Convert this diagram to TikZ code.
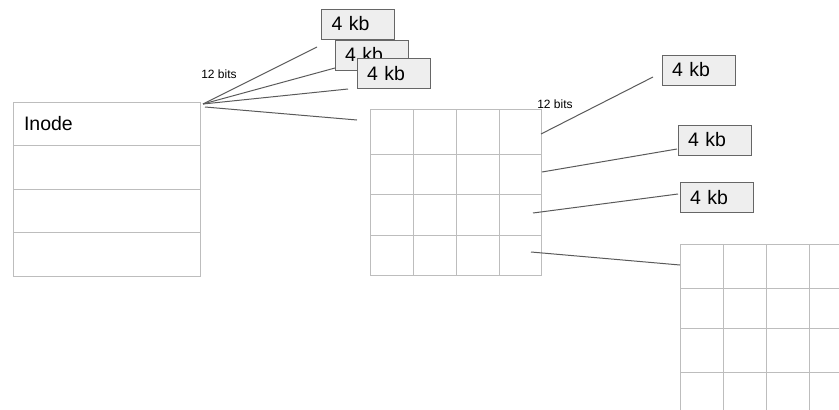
\documentclass[tikz,border=0pt]{standalone}
\usepackage{fontspec}
\setmainfont{Liberation Sans}
\usetikzlibrary{positioning}
\definecolor{gridgray}{HTML}{BDBDBD}
\definecolor{linegray}{HTML}{5A5A5A}
\definecolor{boxfill}{HTML}{EEEEEE}
\definecolor{boxdraw}{HTML}{666666}
\tikzset{
	kbbox/.style={draw=boxdraw, line width=1pt, fill=boxfill, minimum height=30pt,
		text width=53pt, inner xsep=10pt, inner ysep=0pt, align=left,
		font=\fontsize{19.5}{20}\selectfont},
	slot/.style={draw=gridgray, line width=1pt, minimum height=43.5pt,
		text width=165pt, inner xsep=11pt, inner ysep=0pt, outer sep=0pt, align=left,
		font=\fontsize{19.5}{20}\selectfont},
	blockgrid/.style={draw=gridgray, line width=1pt, minimum width=171pt,
		minimum height=166pt, inner sep=0pt},
	gridline/.style={draw=gridgray, line width=1pt},
	link/.style={draw=linegray, line width=1pt},
	bits/.style={font=\fontsize{12}{12}\selectfont, inner sep=0pt},
}

\begin{document}
\begin{tikzpicture}[x=1pt, y=-1pt]
		%%%%% START %%%%%
		\useasboundingbox (0,0) rectangle (839,410);
		\clip (0,0) rectangle (839,410);
		
		% inode table
		\node[slot, anchor=north west] (inode) at (13,102) {Inode};
		\node[slot, below=0pt of inode] (slot2) {};
		\node[slot, below=0pt of slot2] (slot3) {};
		\node[slot, below=0pt of slot3] (slot4) {};
		
		% first indirect block
		\node[blockgrid] (table) at (455.5,192) {};
		\foreach \x in {413,456,499}
			\draw[gridline] (\x,109) -- (\x,275);
		\foreach \y in {154,194,235}
			\draw[gridline] (370,\y) -- (541,\y);
		
		% second indirect block, cut off at the page edge
		\node[blockgrid] (table2) at (765.5,327) {};
		\foreach \x in {723,766,809}
			\draw[gridline] (\x,244) -- (\x,410);
		\foreach \y in {288,328,372}
			\draw[gridline] (680,\y) -- (851,\y);
		
		% data blocks
		\node[kbbox] (top1) at (358,24) {4 kb};
		\node[kbbox] (top2) at (371.5,55) {4 kb};
		\node[kbbox] (top3) at (393.5,73.5) {4 kb};
		\node[kbbox] (data1) at (698.5,70) {4 kb};
		\node[kbbox] (data2) at (714.5,140) {4 kb};
		\node[kbbox] (data3) at (716.5,197.5) {4 kb};
		
		\node[bits] (bitsA) at (219,74) {12 bits};
		\node[bits] (bitsB) at (555,104.5) {12 bits};
		
		% pointers out of the inode
		\coordinate (fan) at (203,104);
		\coordinate (fanlow) at (205,107);
		\coordinate (end1) at (317,47);
		\coordinate (end2) at (335,68);
		\coordinate (end3) at (348,89);
		\coordinate (end4) at (357,120);
		\draw[link] (fan) -- (end1);
		\draw[link] (fan) -- (end2);
		\draw[link] (fan) -- (end3);
		\draw[link] (fanlow) -- (end4);
		
		% pointers out of the indirect block
		\coordinate (ptr1) at (541,134);
		\coordinate (ptr2) at (542,172);
		\coordinate (ptr3) at (533,213);
		\coordinate (ptr4) at (531,252);
		\coordinate (tip1) at (653,77);
		\coordinate (tip2) at (677,149);
		\coordinate (tip3) at (678,194);
		\coordinate (tip4) at (680,265);
		\draw[link] (ptr1) -- (tip1);
		\draw[link] (ptr2) -- (tip2);
		\draw[link] (ptr3) -- (tip3);
		\draw[link] (ptr4) -- (tip4);
		
		%%%%% END %%%%%
	\end{tikzpicture}
\end{document}
